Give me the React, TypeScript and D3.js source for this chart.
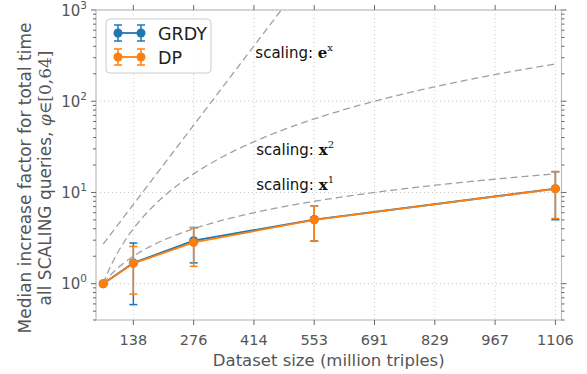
import React from 'react';
import * as d3 from 'd3';

// ---- data ----
const sizes = [69.125, 138.25, 276.5, 553, 1106];
const grdyMedian = [1, 1.69, 2.96, 5.05, 11.0];
const grdyLow = [1, 0.59, 1.69, 2.94, 5.02];
const grdyHigh = [1, 2.79, 4.12, 7.15, 16.9];
const dpMedian = [1, 1.67, 2.83, 5.0, 10.95];
const dpLow = [1, 0.77, 1.55, 2.94, 5.19];
const dpHigh = [1, 2.56, 4.1, 7.15, 17.0];
const xTicks = [138.25, 276.5, 414.75, 553, 691.25, 829.5, 967.75, 1106];
const xTickLabels = ['138', '276', '414', '553', '691', '829', '967', '1106'];
const yMajorTicks = [1, 10, 100, 1000];
const yTickExponents = ['0', '1', '2', '3'];
const scalingNames = ['x1', 'x2', 'ex'];
const scalingLabelPos = [
  { x: 420, y: 10.7, base: 'x', sup: '1' },
  { x: 420, y: 25.8, base: 'x', sup: '2' },
  { x: 418, y: 300, base: 'e', sup: 'x' },
];

const W = 587, H = 374;
const L = 96, R = 561.5, T = 10, B = 320;
const x = d3.scaleLinear().domain([52.6, 1120]).range([L, R]);
const y = d3.scaleLog().domain([0.4, 1000]).range([B, T]);

const minorTicks: number[] = [];
[0.1, 1, 10, 100].forEach(d => {
  for (let k = 2; k <= 9; k++) {
    const v = k * d;
    if (v >= 0.4 && v <= 1000) minorTicks.push(v);
  }
});

const base = sizes[0];
const grid = d3.range(base, 1106.01, 2);
const refFns: Record<string, (s: number) => number> = {
  x1: s => s / base,
  x2: s => Math.pow(s / base, 2),
  ex: s => Math.exp(s / base),
};

const line = d3.line<[number, number]>().x(d => x(d[0])).y(d => y(d[1]));

const BLUE = '#1f77b4';
const ORANGE = '#ff7f0e';
const GRAY_TXT = '#555';

function Series({ med, lo, hi, color }: { med: number[]; lo: number[]; hi: number[]; color: string }) {
  const pts = sizes.map((s, i) => [s, med[i]] as [number, number]);
  return (
    <g>
      {sizes.map((s, i) => (
        <g key={i} stroke={color} strokeWidth={1.5}>
          <line x1={x(s)} x2={x(s)} y1={y(lo[i])} y2={y(hi[i])} />
          <line x1={x(s) - 4} x2={x(s) + 4} y1={y(lo[i])} y2={y(lo[i])} />
          <line x1={x(s) - 4} x2={x(s) + 4} y1={y(hi[i])} y2={y(hi[i])} />
        </g>
      ))}
      <path d={line(pts) || ''} fill="none" stroke={color} strokeWidth={1.8} />
      {pts.map((p, i) => (
        <circle key={i} cx={x(p[0])} cy={y(p[1])} r={4.5} fill={color} />
      ))}
    </g>
  );
}

function LegendItem({ yy, color, label }: { yy: number; color: string; label: string }) {
  const xa = 118, xb = 141;
  return (
    <g>
      <line x1={xa} x2={xb} y1={yy} y2={yy} stroke={color} strokeWidth={1.8} />
      {[xa, xb].map((xx, i) => (
        <g key={i} stroke={color} strokeWidth={1.5}>
          <line x1={xx} x2={xx} y1={yy - 8} y2={yy + 8} />
          <line x1={xx - 4} x2={xx + 4} y1={yy - 8} y2={yy - 8} />
          <line x1={xx - 4} x2={xx + 4} y1={yy + 8} y2={yy + 8} />
        </g>
      ))}
      <circle cx={xa} cy={yy} r={4.5} fill={color} />
      <circle cx={xb} cy={yy} r={4.5} fill={color} />
      <text x={158} y={yy + 6.5} fontSize={17.5} fill="#222">{label}</text>
    </g>
  );
}

export default function App() {
  const font = 'DejaVu Sans, sans-serif';
  return (
    <svg width={W} height={H} style={{ position: 'absolute', left: 0, top: 0, background: '#fff' }} fontFamily={font}>
      <defs>
        <clipPath id="plotclip">
          <rect x={L} y={T} width={R - L} height={B - T} />
        </clipPath>
      </defs>
      {/* grid */}
      <g stroke="#c8c8c8" strokeWidth={1} strokeDasharray="1,3">
        {xTicks.map((t, i) => (
          <line key={'gx' + i} x1={x(t)} x2={x(t)} y1={T} y2={B} />
        ))}
        {yMajorTicks.map((t, i) => (
          <line key={'gy' + i} x1={L} x2={R} y1={y(t)} y2={y(t)} />
        ))}
      </g>
      {/* reference curves */}
      <g clipPath="url(#plotclip)">
        {scalingNames.map(n => (
          <path
            key={n}
            d={line(grid.map(s => [s, refFns[n](s)] as [number, number])) || ''}
            fill="none"
            stroke="#a0a0a0"
            strokeWidth={1.3}
            strokeDasharray="7,4"
          />
        ))}
      </g>
      {/* annotations */}
      {scalingLabelPos.map((p, i) => (
        <text key={i} x={x(p.x)} y={y(p.y)} fontSize={15} fill="#111">
          scaling:{' '}
          <tspan fontFamily="DejaVu Serif, serif" fontWeight="bold">{p.base}</tspan>
          <tspan fontFamily="DejaVu Serif, serif" fontSize={10} dy={-7}>{p.sup}</tspan>
        </text>
      ))}
      {/* series */}
      <g clipPath="url(#plotclip)">
        <Series med={grdyMedian} lo={grdyLow} hi={grdyHigh} color={BLUE} />
        <Series med={dpMedian} lo={dpLow} hi={dpHigh} color={ORANGE} />
      </g>
      {/* spines */}
      <rect x={L} y={T} width={R - L} height={B - T} fill="none" stroke="#bdbdbd" strokeWidth={1.2} />
      {/* ticks */}
      <g stroke="#666" strokeWidth={1}>
        {xTicks.map((t, i) => (
          <g key={'xt' + i}>
            <line x1={x(t)} x2={x(t)} y1={B} y2={B + 5} />
            <line x1={x(t)} x2={x(t)} y1={T} y2={T - 5} />
          </g>
        ))}
        {yMajorTicks.map((t, i) => (
          <g key={'yt' + i}>
            <line x1={L} x2={L - 5} y1={y(t)} y2={y(t)} />
            <line x1={R} x2={R + 5} y1={y(t)} y2={y(t)} />
          </g>
        ))}
        {minorTicks.map((t, i) => (
          <g key={'ym' + i}>
            <line x1={L} x2={L - 3} y1={y(t)} y2={y(t)} />
            <line x1={R} x2={R + 3} y1={y(t)} y2={y(t)} />
          </g>
        ))}
      </g>
      {/* tick labels */}
      {xTicks.map((t, i) => (
        <text key={'xl' + i} x={x(t)} y={345} fontSize={14.5} fill={GRAY_TXT} textAnchor="middle">
          {xTickLabels[i]}
        </text>
      ))}
      {yMajorTicks.map((t, i) => (
        <text key={'yl' + i} x={87} y={y(t) + 5.5} fontSize={15} fill={GRAY_TXT} textAnchor="end">
          10<tspan fontSize={10.5} dy={-7}>{yTickExponents[i]}</tspan>
        </text>
      ))}
      {/* axis labels */}
      <text x={(L + R) / 2} y={365.5} fontSize={16.5} fill={GRAY_TXT} textAnchor="middle">
        Dataset size (million triples)
      </text>
      <g transform={`translate(31,${(T + B) / 2 + 13}) rotate(-90)`}>
        <text x={0} y={0} fontSize={17} fill={GRAY_TXT} textAnchor="middle">
          Median increase factor for total time
        </text>
        <text x={0} y={20} fontSize={17} fill={GRAY_TXT} textAnchor="middle">
          all SCALING queries,{' '}
          <tspan fontFamily="DejaVu Serif, serif" fontStyle="italic">φ</tspan>
          <tspan fontFamily="DejaVu Serif, serif">∈[0,64]</tspan>
        </text>
      </g>
      {/* legend */}
      <rect x={106} y={19} width={105} height={54} rx={4} fill="#fff" fillOpacity={0.85} stroke="#cccccc" strokeWidth={1} />
      <LegendItem yy={33} color={BLUE} label="GRDY" />
      <LegendItem yy={57} color={ORANGE} label="DP" />
    </svg>
  );
}
